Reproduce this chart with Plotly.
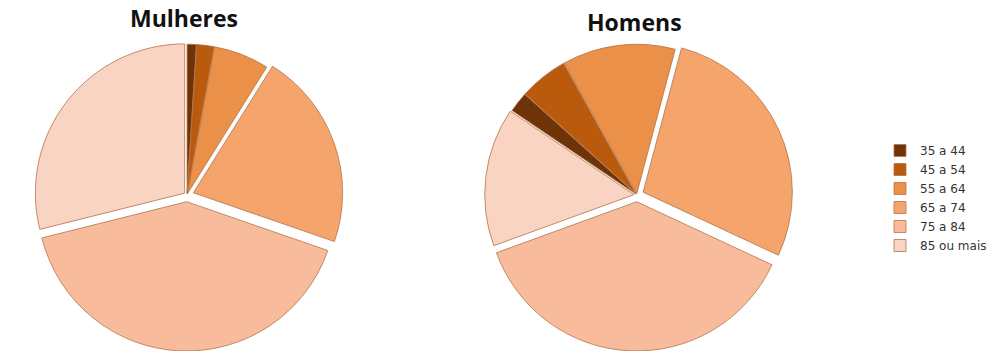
import plotly.graph_objects as go

# Age groups and share of each group (%) for women and men
age_groups = ["35 a 44", "45 a 54", "55 a 64", "65 a 74", "75 a 84", "85 ou mais"]
mulheres = [1.0, 1.9, 6.0, 21.4, 40.8, 28.9]
homens = [2.2, 5.3, 12.2, 27.8, 37.5, 15.0]

colors = ["#6e3306", "#b95a0d", "#ea9048", "#f5a46c", "#f8bc9c", "#f9d4c3"]
pulls = [0.01, 0.01, 0.01, 0.045, 0.045, 0.02]
edge = dict(color="#b3734a", width=0.8)

W, H = 993, 351
R = 156  # half-size of each pie domain in px
top_px = 39


def domain(cx):
    return dict(x=[(cx - R) / W, (cx + R) / W], y=[0, 1 - top_px / H])


fig = go.Figure()
fig.add_trace(go.Pie(
    labels=age_groups, values=mulheres, name="Mulheres",
    sort=False, direction="clockwise", rotation=0,
    marker=dict(colors=colors, line=edge), pull=pulls,
    textinfo="none", hoverinfo="label+percent",
    domain=domain(187),
))
fig.add_trace(go.Pie(
    labels=age_groups, values=homens, name="Homens",
    sort=False, direction="clockwise", rotation=-56,
    marker=dict(colors=colors, line=edge), pull=pulls,
    textinfo="none", hoverinfo="label+percent",
    domain=domain(637),
))

title_font = dict(family="Open Sans", size=23, color="#111111")
fig.update_layout(
    width=W, height=H,
    margin=dict(l=0, r=0, t=0, b=0),
    paper_bgcolor="white",
    showlegend=True,
    legend=dict(
        x=880 / W, xanchor="left", y=1 - 198 / H, yanchor="middle",
        font=dict(family="DejaVu Sans", size=12, color="#333333"),
        bgcolor="rgba(0,0,0,0)",
    ),
    annotations=[
        dict(text="<b>Mulheres</b>", x=184 / W, y=1 - 18 / H, xref="paper", yref="paper",
             showarrow=False, font=title_font, xanchor="center", yanchor="middle"),
        dict(text="<b>Homens</b>", x=634 / W, y=1 - 22 / H, xref="paper", yref="paper",
             showarrow=False, font=title_font, xanchor="center", yanchor="middle"),
    ],
)

fig.write_html("out.html")
